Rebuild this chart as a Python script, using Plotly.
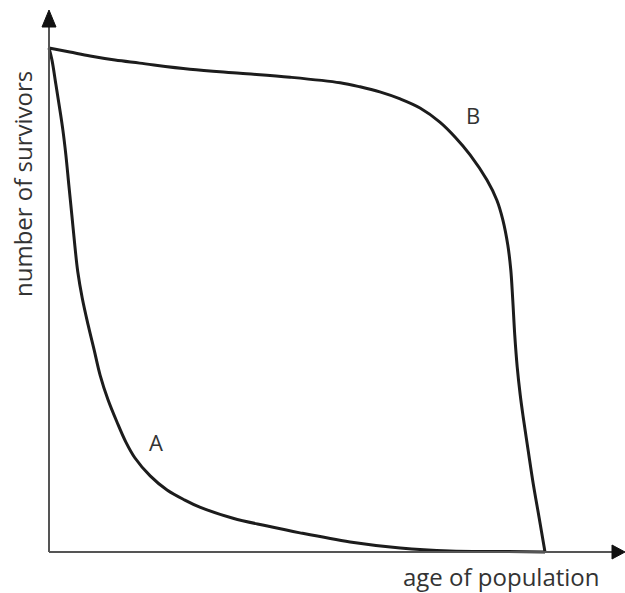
import plotly.graph_objects as go

# Survivorship curves: age as % of maximum lifespan, survivors per 1000 born
age_a = [0, 0.6, 1.4, 2.2, 2.8, 3.4, 4.0, 4.6, 5.2, 5.8, 6.7, 7.9, 9.1, 10.3, 11.9, 13.7,
         15.5, 17.3, 20.4, 23.8, 27.4, 30.4, 37.1, 43.8, 50.6, 60.7, 70.8, 80.8, 90.9, 100]
survivors_a = [1000, 976, 927, 877, 837, 788, 728, 669, 609, 556, 504, 450, 401, 351, 302, 258,
               218, 187, 151, 123, 103, 89, 67, 52, 38, 20, 8, 2, 1, 0]

age_b = [0, 4.2, 8.3, 13.3, 18.3, 28.4, 38.5, 48.6, 58.7, 62.7, 66.7, 70.8, 74.8, 78.8, 81.9,
         84.9, 88.3, 90.3, 91.5, 92.5, 93.1, 93.5, 93.9, 94.4, 95.0, 95.6, 96.6, 97.6, 98.8, 100]
survivors_b = [1000, 992, 984, 976, 970, 958, 950, 942, 931, 923, 913, 899, 881, 853, 823,
               788, 738, 698, 659, 609, 560, 500, 431, 367, 312, 268, 202, 137, 69, 0]

curve_labels = ["A", "B"]

# Canvas geometry (pixels)
W, H = 625, 593
ORIGIN_X, ORIGIN_Y = 49, 552     # pixel position of the axes' origin
PX_PER_X = 4.96
PX_PER_Y = 0.504


def dx(px):
    return px / PX_PER_X


def dy(px):
    return px / PX_PER_Y


def to_x(px):
    return (px - ORIGIN_X) / PX_PER_X


def to_y(py):
    return (ORIGIN_Y - py) / PX_PER_Y


x_lo, x_hi = to_x(0), to_x(W)
y_lo, y_hi = to_y(H), to_y(0)
x_end, y_end = to_x(625), to_y(10)   # arrow tips

line_col = "#1c1c1c"
axis_col = "#555555"
text_col = "#333333"
font_family = "Open Sans"

fig = go.Figure()
for ax, sv in [(age_a, survivors_a), (age_b, survivors_b)]:
    fig.add_trace(go.Scatter(x=ax, y=sv, mode="lines",
                             line=dict(color=line_col, width=3, shape="spline", smoothing=1.0),
                             hoverinfo="skip"))

shapes = [
    # axes
    dict(type="line", x0=0, y0=0, x1=0, y1=y_end - dy(17), line=dict(color=axis_col, width=2)),
    dict(type="line", x0=0, y0=0, x1=x_end - dx(13), y1=0, line=dict(color=axis_col, width=2)),
    # arrowheads
    dict(type="path",
         path=f"M {-dx(7)} {y_end - dy(17)} L 0 {y_end} L {dx(7)} {y_end - dy(17)} Z",
         fillcolor="#111111", line=dict(color="#111111", width=1)),
    dict(type="path",
         path=f"M {x_end - dx(13)} {dy(7)} L {x_end} 0 L {x_end - dx(13)} {-dy(7)} Z",
         fillcolor="#111111", line=dict(color="#111111", width=1)),
]

annotations = [
    dict(x=to_x(156), y=to_y(442), text=curve_labels[0], showarrow=False,
         font=dict(size=22, color=text_col, family=font_family)),
    dict(x=to_x(473), y=to_y(115), text=curve_labels[1], showarrow=False,
         font=dict(size=22, color=text_col, family=font_family)),
    dict(x=to_x(501), y=to_y(576), text="age of population", showarrow=False, borderpad=0,
         font=dict(size=24, color=text_col, family=font_family)),
    dict(x=to_x(22), y=to_y(184), text="number of survivors", showarrow=False, textangle=-90,
         font=dict(size=24, color=text_col, family=font_family)),
]

fig.update_layout(
    width=W, height=H,
    margin=dict(l=0, r=0, t=0, b=0),
    paper_bgcolor="white", plot_bgcolor="white",
    showlegend=False,
    xaxis=dict(range=[x_lo, x_hi], visible=False, fixedrange=True),
    yaxis=dict(range=[y_lo, y_hi], visible=False, fixedrange=True),
    shapes=shapes,
    annotations=annotations,
)

fig.write_html("out.html", config={"displayModeBar": False})
